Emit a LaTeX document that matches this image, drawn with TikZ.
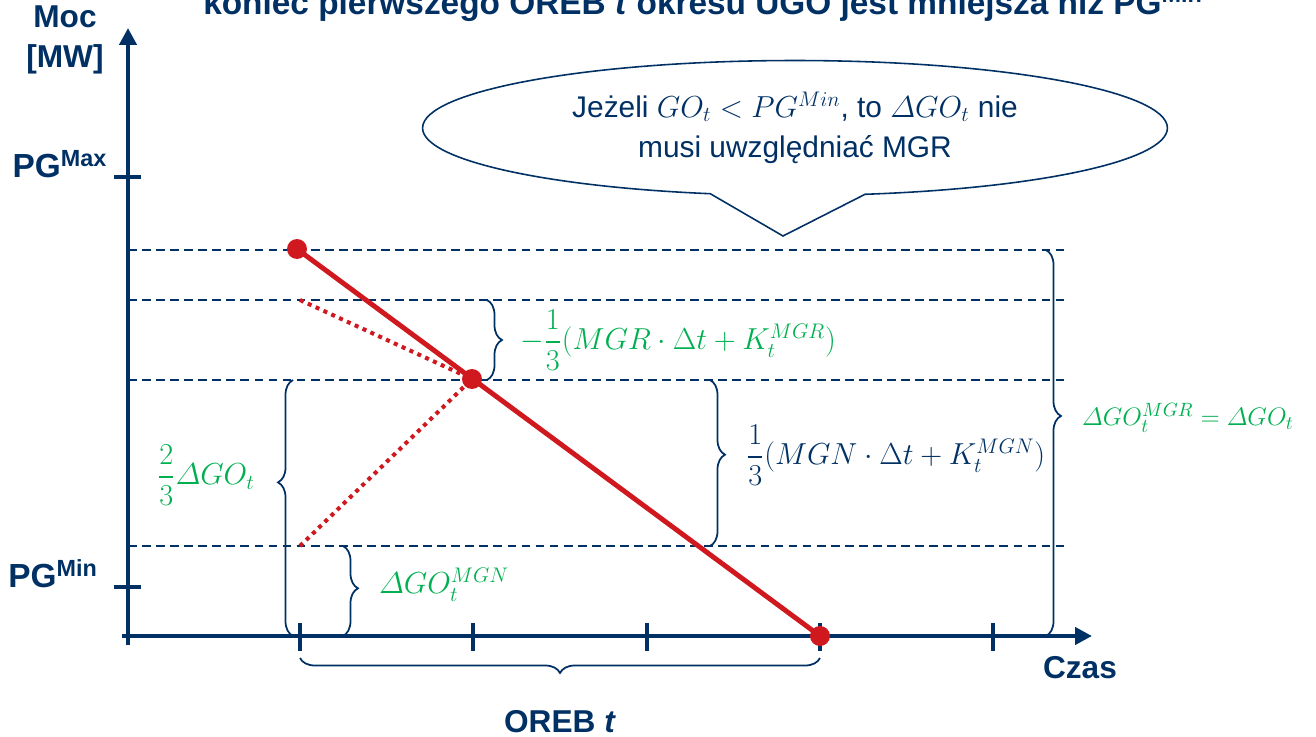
\documentclass[tikz,border=0pt]{standalone}
\usepackage{amsmath}
\usepackage[no-math]{fontspec}
\setmainfont{Liberation Sans}
\usetikzlibrary{arrows.meta, decorations.pathreplacing, shapes.callouts, shapes.geometric}

\definecolor{granat}{RGB}{0,48,100}
\definecolor{czerwony}{RGB}{208,24,31}
\definecolor{zielony}{RGB}{0,176,80}

\begin{document}
\begin{tikzpicture}[x=0.02cm, y=-0.02cm, >=latex,
    os/.style={granat, line width=2.4pt, -{Triangle[length=0.34cm, width=0.34cm]}},
    kreska/.style={granat, line width=2.4pt},
    linia/.style={granat, line width=0.7pt, dash pattern=on 5pt off 3pt},
    klamra/.style={granat, line width=1pt, decorate, decoration={brace, amplitude=0.3cm}},
    punkt/.style={circle, fill=czerwony, minimum size=0.4cm, inner sep=0pt},
    kropki/.style={czerwony, line width=2.3pt, dash pattern=on 2.3pt off 2.6pt},
    opis/.style={font=\fontsize{18}{23}\selectfont\bfseries, text=granat, align=center},
    wzor/.style={font=\fontsize{17}{20}\selectfont}
]
    \useasboundingbox (0,0) rectangle (1316,737);
    % tytul (uciety u gory)
    \node[anchor=base, font=\fontsize{19}{22}\selectfont\bfseries, text=granat] (tytul) at (703,14)
        {koniec pierwszego OREB \textit{t} okresu UGO jest mniejsza niż PG\textsuperscript{Min}};
    % linie przerywane
    \foreach \y in {250,300,380,546}
        \draw[linia] (128,\y) -- (1065,\y);
    % osie
    \coordinate (ys) at (128,645);
    \coordinate (ye) at (128,28);
    \coordinate (xs) at (122,636);
    \coordinate (xe) at (1092,636);
    \draw[os] (ys) -- (ye);
    \draw[os] (xs) -- (xe);
    \foreach \y in {177,587}
        \draw[kreska] (114,\y) -- (141,\y);
    \foreach \x in {300,473,647,820,993}
        \draw[kreska] (\x,623) -- (\x,651);
    \node[opis] (moc) at (65,40) {Moc\\{[MW]}};
    \node[opis, font=\fontsize{19}{23}\selectfont\bfseries] (pgmax) at (60,164) {PG\textsuperscript{Max}};
    \node[opis, font=\fontsize{19}{23}\selectfont\bfseries] (pgmin) at (53,574) {PG\textsuperscript{Min}};
    \node[opis] (czas) at (1080,668) {Czas};
    \node[opis] (oreb) at (560,722) {OREB \textit{t}};
    % przebieg
    \coordinate (g1) at (297,249);
    \coordinate (g2) at (472,379);
    \coordinate (g3) at (820,636);
    \coordinate (d1) at (300,300);
    \coordinate (d2) at (300,546);
    \draw[kropki] (d1) -- (g2);
    \draw[kropki] (d2) -- (g2);
    \draw[czerwony, line width=2.8pt] (g1) -- (g3);
    \foreach \n in {1,2,3}
        \node[punkt] (p\n) at (g\n) {};
    % klamry
    \draw[klamra] (487,300) -- (487,380);
    \node[wzor, text=zielony, anchor=west] (mgr) at (514,340) {$-\dfrac{1}{3}(MGR\cdot\Delta t+K_t^{MGR})$};
    \draw[klamra, decoration={aspect=0.45}] (710,380) -- (710,546);
    \node[wzor, text=granat, anchor=west] (mgn) at (740,455) {$\dfrac{1}{3}(MGN\cdot\Delta t+K_t^{MGN})$};
    \draw[klamra, decoration={aspect=0.43}] (1046,250) -- (1046,636);
    \node[wzor, font=\fontsize{15.5}{18}\selectfont, text=zielony, anchor=west] (rowne) at (1076,418) {$\varDelta GO_t^{MGR}=\varDelta GO_t$};
    \draw[klamra, decoration={aspect=0.6}] (293,636) -- (293,380);
    \node[wzor, text=zielony, anchor=east] (dwie) at (261,475) {$\dfrac{2}{3}\varDelta GO_t$};
    \draw[klamra, decoration={aspect=0.47}] (343,546) -- (343,636);
    \node[wzor, text=zielony, anchor=west] (dgo) at (373,585) {$\varDelta GO_t^{MGN}$};
    \draw[klamra] (820,658) -- (300,658);
    % dymek
    \node[ellipse callout, draw=granat, line width=0.9pt, minimum width=14.9cm, minimum height=2.7cm,
        callout absolute pointer={(783,236)}, callout pointer arc=24, inner sep=0pt,
        align=center, text=granat, font=\fontsize{17}{23}\selectfont] (dymek) at (795,128)
        {Jeżeli $GO_t < PG^{Min}$, to $\varDelta GO_t$ nie\\musi uwzględniać MGR};
\end{tikzpicture}
\end{document}
